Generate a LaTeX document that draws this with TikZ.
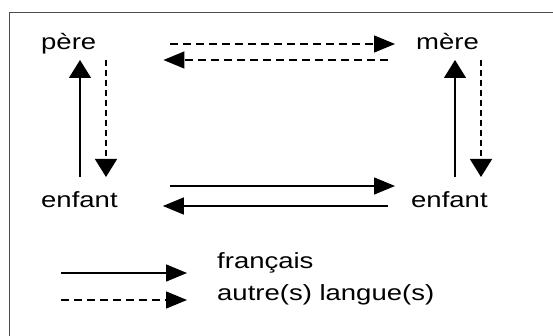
\documentclass[tikz,border=0pt]{standalone}
\usepackage{fontspec}
\usetikzlibrary{arrows.meta}
\newfontfamily\lab[FakeStretch=1.25]{Liberation Sans}
\begin{document}
\begin{tikzpicture}[x=1pt, y=-1pt,
  every node/.style = {inner sep=0pt, anchor=base west,
    font=\lab\fontsize{22}{26}\selectfont},
  fr/.style = {line width=1.4pt},
  aut/.style = {line width=1.4pt, dash pattern=on 8pt off 5pt},
  autv/.style = {line width=1.4pt, dash pattern=on 6pt off 4pt},
  hT/.style = {-{Triangle[length=21pt,width=17pt]}},
  vT/.style = {-{Triangle[length=18pt,width=22pt]}}]
  \clip (0,0) rectangle (553,336);
  \useasboundingbox (0,0) rectangle (553,336);
  \draw[line width=1.5pt, gray!60!black] (9.5,12.5) rectangle (580,360);
  \node (pere) at (41,50) {père};
  \node (mere) at (416,50) {mère};
  \node (enfantG) at (41,208) {enfant};
  \node (enfantD) at (411,208) {enfant};
  \node (francais) at (217,268) {français};
  \node (autres) at (217,300) {autre(s) langue(s)};
  \draw[aut,hT] ([shift={(74,-6)}]pere.base east) -- ([shift={(-21,-6)}]mere.base west);
  \draw[aut,hT] ([shift={(-28,10)}]mere.base west) -- ([shift={(67,10)}]pere.base east);
  \draw[fr,hT] ([shift={(52,-22)}]enfantG.base east) -- ([shift={(-16,-22)}]enfantD.base west);
  \draw[fr,hT] ([shift={(-23,-2)}]enfantD.base west) -- ([shift={(45,-2)}]enfantG.base east);
  \draw[fr,vT] ([shift={(39,-31)}]enfantG.base west) -- ([shift={(39,10)}]pere.base west);
  \draw[autv,vT] ([shift={(65,10)}]pere.base west) -- ([shift={(65,-31)}]enfantG.base west);
  \draw[fr,vT] ([shift={(44,-31)}]enfantD.base west) -- ([shift={(39,10)}]mere.base west);
  \draw[autv,vT] ([shift={(65,10)}]mere.base west) -- ([shift={(70,-31)}]enfantD.base west);
  \draw[fr,hT] ([shift={(-156,5)}]francais.base west) -- ([shift={(-30,5)}]francais.base west);
  \draw[aut,hT] ([shift={(-156,0)}]autres.base west) -- ([shift={(-30,0)}]autres.base west);
\end{tikzpicture}
\end{document}
